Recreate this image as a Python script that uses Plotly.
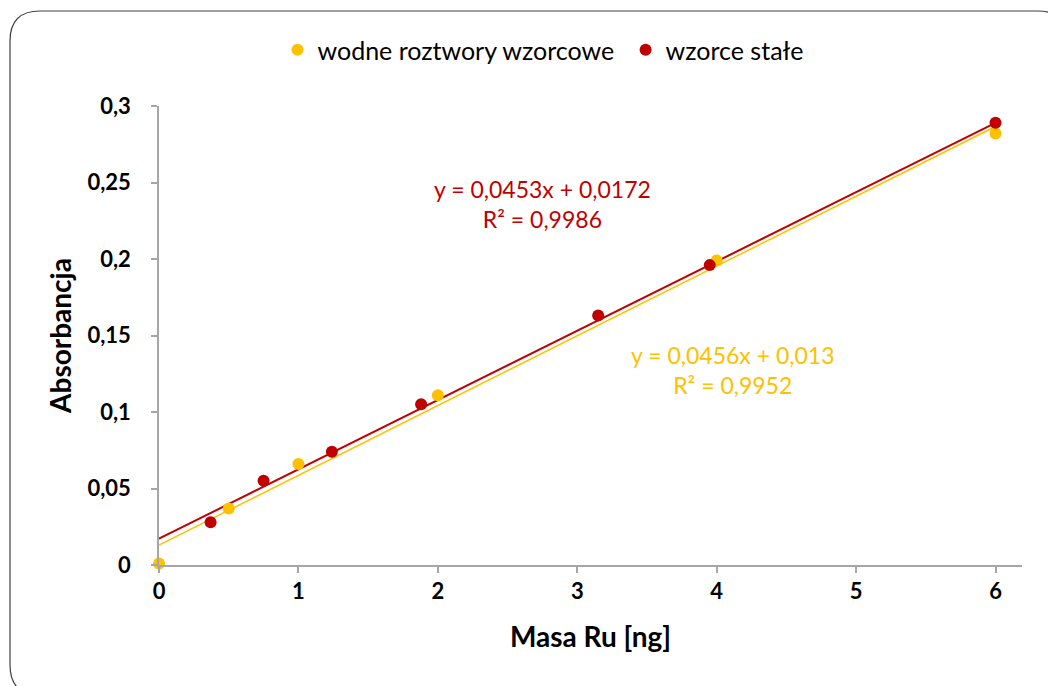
import plotly.graph_objects as go

# ---- data ----
aq_x = [0, 0.5, 1, 2, 4, 6]
aq_y = [0.001, 0.037, 0.066, 0.111, 0.199, 0.282]
solid_x = [0.37, 0.75, 1.24, 1.88, 3.95, 3.15, 6.0]
solid_y = [0.028, 0.055, 0.074, 0.105, 0.196, 0.163, 0.289]
aq_slope, aq_intercept, aq_r2 = 0.0456, 0.013, "0,9952"
solid_slope, solid_intercept, solid_r2 = 0.0453, 0.0172, "0,9986"
aq_eq = "y = 0,0456x + 0,013"
solid_eq = "y = 0,0453x + 0,0172"
x_ticks = [0, 1, 2, 3, 4, 5, 6]
y_ticks = [0, 0.05, 0.1, 0.15, 0.2, 0.25, 0.3]
y_tick_text = ["0", "0,05", "0,1", "0,15", "0,2", "0,25", "0,3"]
fit_x = [0, 6]

YELLOW = "#FFC000"
RED = "#C00000"
FONT = "Lato, 'Open Sans', sans-serif"

OFF = 8  # default page body margin
W, H = 1056 - OFF, 686 - OFF
L, R, T, B = 159 - OFF, 34, 106 - OFF, 121
PW, PH = W - L - R, H - T - B


def px(x):  # page pixel -> paper x
    return (x - OFF - L) / PW


def py(y):  # page pixel -> paper y
    return (H - B - (y - OFF)) / PH


fig = go.Figure()

fig.add_trace(go.Scatter(
    x=fit_x, y=[aq_intercept + aq_slope * v for v in fit_x], mode="lines",
    line=dict(color=YELLOW, width=1.5), showlegend=False, hoverinfo="skip"))
fig.add_trace(go.Scatter(
    x=fit_x, y=[solid_intercept + solid_slope * v for v in fit_x], mode="lines",
    line=dict(color=RED, width=2), showlegend=False, hoverinfo="skip"))
fig.add_trace(go.Scatter(
    x=aq_x, y=aq_y, mode="markers", name="wodne roztwory wzorcowe\u00a0",
    marker=dict(color=YELLOW, size=12), cliponaxis=False))
fig.add_trace(go.Scatter(
    x=solid_x, y=solid_y, mode="markers", name="wzorce stałe",
    marker=dict(color=RED, size=12), cliponaxis=False))

fig.add_annotation(x=px(542), y=py(204), xref="paper", yref="paper",
                   xanchor="center", yanchor="middle",
                   text=solid_eq + "<br>R² = " + solid_r2, showarrow=False,
                   font=dict(family=FONT, size=23, color=RED), align="center")
fig.add_annotation(x=px(732), y=py(370), xref="paper", yref="paper",
                   xanchor="center", yanchor="middle",
                   text=aq_eq + "<br>R² = " + aq_r2, showarrow=False,
                   font=dict(family=FONT, size=23, color=YELLOW), align="center")

# rounded frame
x0, x1, y0, y1, r = 10, 1068, 11, 695, 30
path = (f"M {px(x0)} {py(y0 + r)} "
        f"Q {px(x0)} {py(y0)} {px(x0 + r)} {py(y0)} "
        f"L {px(x1 - r)} {py(y0)} "
        f"Q {px(x1)} {py(y0)} {px(x1)} {py(y0 + r)} "
        f"L {px(x1)} {py(y1 - r)} "
        f"Q {px(x1)} {py(y1)} {px(x1 - r)} {py(y1)} "
        f"L {px(x0 + r)} {py(y1)} "
        f"Q {px(x0)} {py(y1)} {px(x0)} {py(y1 - r)} Z")
fig.add_shape(type="path", path=path, xref="paper", yref="paper",
              line=dict(color="#404040", width=1.2), layer="below")

axis_common = dict(showgrid=False, zeroline=False, showline=True,
                   linecolor="#A6A6A6", linewidth=1.5, ticks="outside",
                   tickcolor="#A6A6A6", ticklen=6, tickwidth=1.5,
                   tickfont=dict(family=FONT, size=22, color="black", weight="bold"))

fig.update_layout(
    width=W, height=H,
    margin=dict(l=L, r=R, t=T, b=B),
    paper_bgcolor="white", plot_bgcolor="white",
    font=dict(family=FONT),
    xaxis=dict(range=[0, 6.19], tickvals=x_ticks, ticktext=[str(v) for v in x_ticks],
               title=dict(text="Masa Ru [ng]", standoff=24,
                          font=dict(family=FONT, size=28, color="black", weight="bold")),
               **axis_common),
    yaxis=dict(range=[0, 0.3], tickvals=y_ticks, ticktext=y_tick_text,
               ticklabelstandoff=16,
               title=dict(text="Absorbancja", standoff=8,
                          font=dict(family=FONT, size=28, color="black", weight="bold")),
               **axis_common),
    legend=dict(orientation="h", x=px(543), y=py(50), xanchor="center", yanchor="middle",
                font=dict(family=FONT, size=25, color="black"), itemwidth=30,
                bgcolor="rgba(0,0,0,0)"),
)

fig.write_html("out.html")
